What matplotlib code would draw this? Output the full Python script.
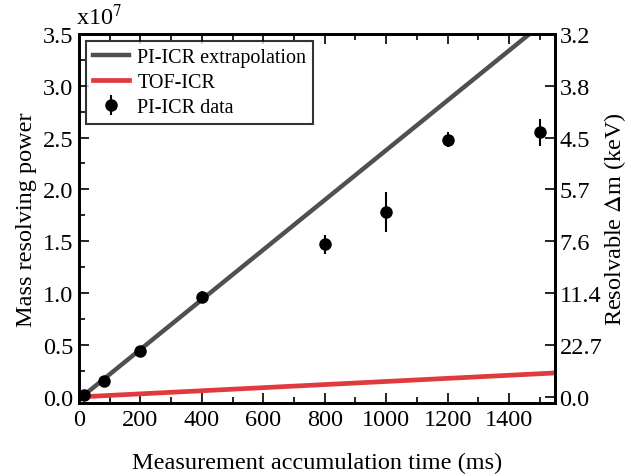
import numpy as np
import matplotlib.pyplot as plt
from matplotlib.ticker import MultipleLocator

plt.rcParams["font.family"] = ["Liberation Serif", "DejaVu Serif"]
plt.rcParams["mathtext.fontset"] = "stix"

# PI-ICR data (resolving power in units of 1e7)
t_data = [16, 83, 200, 400, 800, 1000, 1200, 1500]
r_data = [0.02, 0.15, 0.44, 0.96, 1.47, 1.78, 2.48, 2.55]
r_err = [0.02, 0.03, 0.03, 0.06, 0.09, 0.19, 0.07, 0.13]

# linear trends
t_line = [10, 1550]
r_extrap = [0.0, 3.70]
r_tof = [0.0, 0.23]

# right axis labels (resolvable mass difference, keV)
y_ticks = [0.0, 0.5, 1.0, 1.5, 2.0, 2.5, 3.0, 3.5]
dm_labels = ["0.0", "22.7", "11.4", "7.6", "5.7", "4.5", "3.8", "3.2"]

fs = 17.5

fig = plt.figure(figsize=(6.31, 4.77), dpi=100)
ax = fig.add_axes([0.125, 0.153, 0.755, 0.774])

ax.plot(t_line, r_extrap, color="#505050", lw=3.2, label="PI-ICR extrapolation", zorder=2)
ax.plot(t_line, r_tof, color="#e03a3e", lw=3.4, label="TOF-ICR", zorder=2)
ax.errorbar(t_data, r_data, yerr=r_err, fmt="o", color="black", ms=8,
            elinewidth=1.5, capsize=0, label="PI-ICR data", zorder=3)

ax.set_xlim(0, 1550)
ax.set_ylim(-0.06, 3.5)
ax.set_yticks(y_ticks)
ax.set_yticklabels([f"{v:.1f}" for v in y_ticks])
ax.xaxis.set_major_locator(MultipleLocator(200))
ax.xaxis.set_minor_locator(MultipleLocator(100))
ax.yaxis.set_minor_locator(MultipleLocator(0.25))
ax.tick_params(which="both", direction="in", top=True, right=False, width=1.2)
ax.tick_params(which="major", length=7, labelsize=fs, pad=4)
ax.tick_params(which="minor", length=4)
for s in ax.spines.values():
    s.set_linewidth(2)

ax.set_xlabel("Measurement accumulation time (ms)", fontsize=fs, labelpad=16)
ax.set_ylabel("Mass resolving power", fontsize=fs, labelpad=4)
ax.text(-0.005, 1.012, r"x10$^{7}$", transform=ax.transAxes, fontsize=fs,
        ha="left", va="bottom")

ax2 = ax.twinx()
ax2.set_ylim(ax.get_ylim())
ax2.set_yticks(y_ticks)
ax2.set_yticklabels(dm_labels)
ax2.tick_params(direction="in", length=7, width=1.2, labelsize=fs, pad=3)
ax2.set_ylabel(r"Resolvable $\Delta$m (keV)", fontsize=fs, labelpad=0)
for s in ax2.spines.values():
    s.set_linewidth(2)

leg = ax.legend(loc="upper left", fontsize=14.5, frameon=True, fancybox=False,
                edgecolor="black", handlelength=1.8, borderpad=0.35,
                labelspacing=0.3, handletextpad=0.4, borderaxespad=0.35)
leg.get_frame().set_linewidth(1.5)

fig.savefig("out.png", dpi=100)
